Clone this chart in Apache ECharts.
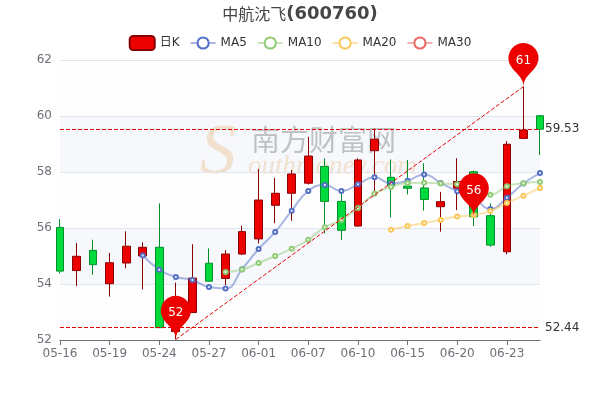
<!DOCTYPE html>
<html>
<head>
<meta charset="utf-8">
<script src="https://cdn.jsdelivr.net/npm/echarts@6/dist/echarts.min.js"></script>
<style>html,body{margin:0;padding:0;background:#fff;}#main{width:600px;height:400px;}</style>
</head>
<body>
<div id="main"></div>
<script>
var categories = ['05-16','05-17','05-18','05-19','05-20','05-23','05-24','05-25','05-26','05-27',
  '05-30','05-31','06-01','06-02','06-06','06-07','06-08','06-09','06-10','06-13',
  '06-14','06-15','06-16','06-17','06-20','06-21','06-22','06-23','06-24','06-27'];
var openVals  = [56.02,54.48,55.20,54.01,54.75,55.00,55.31,52.30,52.98,54.74,
  54.20,55.07,55.61,56.81,57.24,57.60,58.20,56.95,56.07,58.76,
  57.81,57.50,57.43,56.76,57.42,58.01,56.44,55.15,59.20,60.01];
var closeVals = [54.46,54.99,54.69,54.76,55.35,55.31,52.44,53.39,54.21,54.10,
  55.07,55.87,57.00,57.24,57.93,58.57,56.95,55.92,58.43,59.17,
  57.50,57.42,57.02,56.94,57.66,56.40,55.39,58.99,59.50,59.53];
var lowVals   = [54.38,53.93,54.33,53.55,54.56,53.81,52.44,52.02,52.98,54.08,
  53.96,55.04,55.45,56.17,56.26,57.55,55.81,55.57,56.05,57.30,
  56.38,57.20,56.62,55.87,56.64,56.07,55.33,55.06,59.20,58.61];
var highVals  = [56.32,55.46,55.58,55.11,55.88,55.49,56.88,54.05,55.42,55.27,
  55.21,56.08,58.11,57.79,58.07,59.26,58.49,57.30,58.49,59.55,
  58.45,58.43,58.31,57.29,58.49,58.05,56.88,59.10,61.05,60.03];
var ma5  = ['-','-','-','-','-',55.02,54.51,54.25,54.14,53.89,
  53.84,54.53,55.25,55.86,56.62,57.32,57.54,57.32,57.56,57.81,
  57.59,57.69,57.91,57.61,57.31,57.09,56.68,57.08,57.59,57.96];
var ma10 = ['-','-','-','-','-','-','-','-','-','-',
  54.43,54.52,54.75,55.00,55.26,55.58,56.03,56.29,56.71,57.22,
  57.46,57.61,57.62,57.59,57.56,57.34,57.19,57.49,57.60,57.64];
var ma20 = ['-','-','-','-','-','-','-','-','-','-',
  '-','-','-','-','-','-','-','-','-','-',
  55.94,56.07,56.18,56.29,56.41,56.46,56.61,56.89,57.15,57.43];
var ma30 = ['-','-','-','-','-','-','-','-','-','-',
  '-','-','-','-','-','-','-','-','-','-',
  '-','-','-','-','-','-','-','-','-','-'];
var yTicks = [52, 54, 56, 58, 60, 62];

var kData = categories.map(function (c, i) {
  return [openVals[i], closeVals[i], lowVals[i], highVals[i]];
});

var upColor = '#ec0000', upBorderColor = '#8A0000';
var downColor = '#00da3c', downBorderColor = '#008F28';

var chart = echarts.init(document.getElementById('main'), null, {renderer: 'canvas'});
function maSeries(name, data, color) {
  return {
    name: name, type: 'line', data: data, smooth: true,
    symbol: 'emptyCircle', symbolSize: 4,
    itemStyle: {color: color},
    lineStyle: {color: color, opacity: 0.5, width: 2}
  };
}
chart.setOption({
  animation: false,
  textStyle: {fontFamily: '"DejaVu Sans", "Noto Sans CJK SC", sans-serif'},
  title: {
    text: '{cn|中航沈飞}{code|(600760)}', left: 'center', top: 0,
    textStyle: {
      fontSize: 18, fontWeight: 'bold', color: '#464646',
      rich: {
        cn: {fontSize: 16, fontWeight: 'normal', color: '#464646', fontFamily: '"Noto Sans CJK SC"'},
        code: {fontSize: 18, fontWeight: 'bold', color: '#464646', fontFamily: '"DejaVu Sans"'}
      }
    }
  },
  legend: {
    data: ['日K', 'MA5', 'MA10', 'MA20', 'MA30'],
    top: 30, left: 'center', itemGap: 10,
    textStyle: {color: '#333', fontSize: 12}
  },
  graphic: [
    {type: 'text', silent: true, z: 0, left: 200, top: 118,
      style: {text: 'S', font: 'italic 72px "Liberation Serif"', fill: 'rgba(243,196,140,0.5)'}},
    {type: 'text', silent: true, z: 0, left: 248, top: 153,
      style: {text: 'outhmoney.com', font: 'italic 27px "Liberation Serif"', fill: 'rgba(243,196,140,0.5)'}},
    {type: 'text', silent: true, z: 0, left: 251, top: 125,
      style: {text: '南方财富网', font: '29px "Noto Sans CJK SC"', fill: 'rgba(140,140,140,0.6)'}}
  ],
  grid: {left: 60, right: 60, top: 60, bottom: 60},
  xAxis: {
    type: 'category', data: categories, boundaryGap: false,
    axisLine: {onZero: false, lineStyle: {color: '#6e7079'}},
    axisTick: {lineStyle: {color: '#6e7079'}},
    axisLabel: {interval: 2, color: '#6e7079', fontSize: 12},
    splitLine: {show: false}
  },
  yAxis: {
    type: 'value', min: yTicks[0], max: yTicks[yTicks.length - 1], interval: 2,
    axisLabel: {color: '#6e7079', fontSize: 12},
    axisLine: {show: false}, axisTick: {show: false},
    splitLine: {lineStyle: {color: '#E0E6F1'}},
    splitArea: {show: true, areaStyle: {color: ['rgba(250,250,250,0.2)', 'rgba(210,219,238,0.2)']}}
  },
  series: [
    {
      name: '日K', type: 'candlestick', data: kData,
      itemStyle: {color: upColor, color0: downColor, borderColor: upBorderColor, borderColor0: downBorderColor},
      markPoint: {
        itemStyle: {color: '#ec0000'},
        label: {formatter: function (p) { return p != null ? Math.round(p.value) + '' : ''; }, color: '#fff'},
        data: [
          {name: 'highest value', type: 'max', valueDim: 'highest'},
          {name: 'lowest value', type: 'min', valueDim: 'lowest'},
          {name: 'average value on close', type: 'average', valueDim: 'close'}
        ]
      },
      markLine: {
        symbol: ['none', 'none'],
        lineStyle: {color: '#e00000', type: 'dashed', width: 1},
        label: {color: '#333'},
        data: [
          [
            {name: 'from lowest to highest', type: 'min', valueDim: 'lowest', symbol: 'none', label: {show: false}},
            {type: 'max', valueDim: 'highest', symbol: 'none', label: {show: false}}
          ],
          {name: 'min line on close', type: 'min', valueDim: 'close'},
          {name: 'max line on close', type: 'max', valueDim: 'close'}
        ]
      }
    },
    maSeries('MA5', ma5, '#5470c6'),
    maSeries('MA10', ma10, '#91cc75'),
    maSeries('MA20', ma20, '#fac858'),
    maSeries('MA30', ma30, '#ee6666')
  ]
});
</script>
</body>
</html>
